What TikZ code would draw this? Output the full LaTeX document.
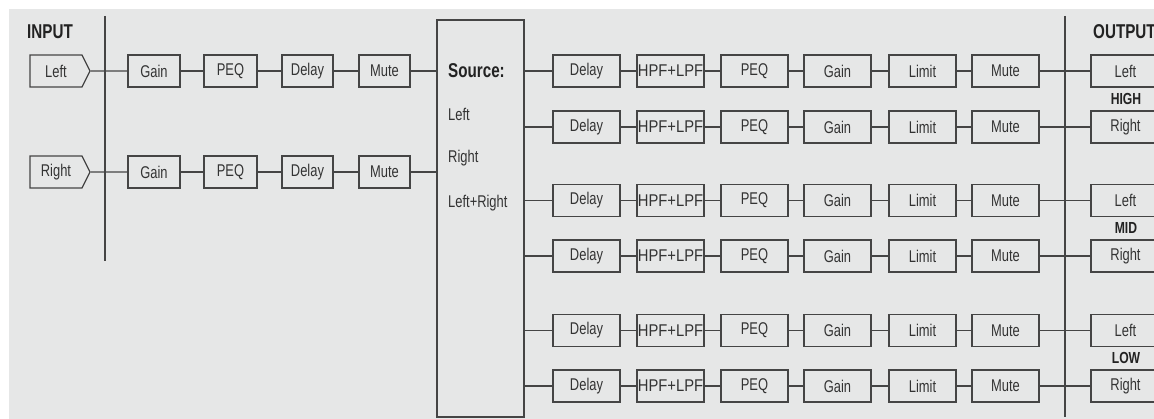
\documentclass[tikz,border=0pt]{standalone}
\usepackage{fontspec}
\setmainfont[FakeStretch=0.76]{Liberation Sans}
\newfontfamily\hpffont[FakeStretch=0.87]{Liberation Sans}
\usetikzlibrary{shapes.symbols}
\definecolor{bgc}{HTML}{E6E7E7}
\definecolor{linec}{HTML}{454545}
\definecolor{txtc}{HTML}{333333}
\definecolor{headc}{HTML}{222222}
\begin{document}
\begin{tikzpicture}[x=1pt,y=-1pt,
  wire/.style={draw=linec, line width=1.3pt},
  blk/.style={draw=linec, line width=1.3pt, minimum width=#1, minimum height=32pt, inner sep=0pt, text=txtc, font=\fontsize{17}{19}\selectfont},
  inbox/.style={signal, signal to=east, signal pointer angle=127, draw=linec, line width=1.3pt, minimum width=60pt, minimum height=32pt, inner sep=0pt, text=txtc, font=\fontsize{17}{19}\selectfont},
  head/.style={text=headc, inner sep=0pt, font=\fontsize{20}{22}\selectfont\bfseries},
  band/.style={text=headc, inner sep=0pt, font=\fontsize{16}{18}\selectfont\bfseries},
  srctxt/.style={text=txtc, inner sep=0pt, anchor=base west, font=\fontsize{17}{19}\selectfont}]
\useasboundingbox (0,0) rectangle (1154,419);
\fill[bgc] (9,9) rectangle (1154,419);

% input side
\node[head, anchor=base west] (inlbl) at (27,39) {INPUT};
\coordinate (iv1) at (105,16);
\coordinate (iv2) at (105,261);
\draw[wire] (iv1) -- (iv2);

\node[inbox] (inL) at (56,71) {Left\hspace{6pt}};
\node[inbox] (inR) at (56,172) {Right\hspace{6pt}};

\foreach \r/\y in {1/71, 2/172} {
  \node[blk=52] (ga\r) at (154,\y) {Gain};
  \node[blk=53] (pa\r) at (230.5,\y) {PEQ};
  \node[blk=51] (da\r) at (307.5,\y) {Delay};
  \node[blk=51] (ma\r) at (384.5,\y) {Mute};
}
\draw[wire] (inL) -- (ga1);
\draw[wire] (inR) -- (ga2);
\foreach \r in {1,2} {
  \draw[wire] (ga\r) -- (pa\r);
  \draw[wire] (pa\r) -- (da\r);
  \draw[wire] (da\r) -- (ma\r);
}

% source
\node[draw=linec, line width=1.3pt, minimum width=87pt, minimum height=397pt, inner sep=0pt] (src) at (480.5,218.5) {};
\node[srctxt, font=\fontsize{20}{22}\selectfont\bfseries, text=headc] (s0) at (448,78) {Source:};
\node[srctxt] (s1) at (448,120.5) {Left};
\node[srctxt] (s2) at (448,162.5) {Right};
\node[srctxt] (s3) at (448,208) {Left+Right};
\draw[wire] (ma1) -- (src.west |- ma1);
\draw[wire] (ma2) -- (src.west |- ma2);

% output side
\coordinate (ov1) at (1065,16);
\coordinate (ov2) at (1065,417);
\draw[wire] (ov1) -- (ov2);
\node[head, anchor=base west] (outlbl) at (1093,39) {OUTPUT};

\foreach \r/\y/\ch in {1/71/Left, 2/127/Right, 3/200.5/Left, 4/256/Right, 5/330.5/Left, 6/386/Right} {
  \node[blk=67] (d\r) at (586.5,\y) {Delay};
  \node[blk=67, font=\fontsize{17}{19}\hpffont] (h\r) at (670.5,\y) {HPF+LPF};
  \node[blk=67] (p\r) at (754.5,\y) {PEQ};
  \node[blk=67] (g\r) at (837.5,\y) {Gain};
  \node[blk=67] (l\r) at (922.5,\y) {Limit};
  \node[blk=67] (m\r) at (1005.5,\y) {Mute};
  \node[blk=69] (o\r) at (1125.5,\y) {\ch};
  \draw[wire] (src.east |- d\r) -- (d\r);
  \draw[wire] (d\r) -- (h\r);
  \draw[wire] (h\r) -- (p\r);
  \draw[wire] (p\r) -- (g\r);
  \draw[wire] (g\r) -- (l\r);
  \draw[wire] (l\r) -- (m\r);
  \draw[wire] (m\r) -- (o\r);
}
\node[band, anchor=base] (hi) at (1126,105) {HIGH};
\node[band, anchor=base] (mid) at (1126,234) {MID};
\node[band, anchor=base] (low) at (1126,364) {LOW};
\end{tikzpicture}
\end{document}
